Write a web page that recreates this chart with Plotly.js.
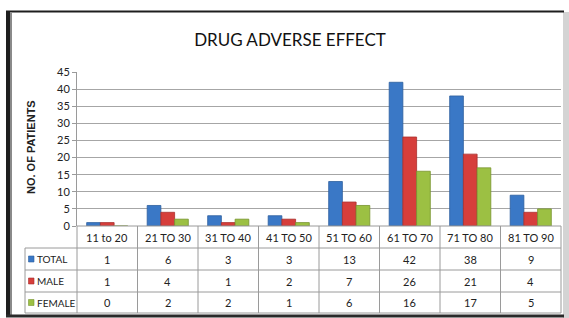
<!DOCTYPE html>
<html>
<head>
<meta charset="utf-8">
<script src="https://cdn.plot.ly/plotly-3.0.1.min.js"></script>
<style>
html,body{margin:0;padding:0;background:#fff;}
#chart{width:569px;height:318px;}
</style>
</head>
<body>
<div id="chart"></div>
<script>
// ---- data ----
const categories = ["11 to 20","21 TO 30","31 TO 40","41 TO 50","51 TO 60","61 TO 70","71 TO 80","81 TO 90"];
const seriesNames = ["TOTAL","MALE","FEMALE"];
const totalVals = [1,6,3,3,13,42,38,9];
const maleVals = [1,4,1,2,7,26,21,4];
const femaleVals = [0,2,2,1,6,16,17,5];
const yTicks = [0,5,10,15,20,25,30,35,40,45];

// ---- style ----
const colors = ["#3A78C6","#D63E3B","#9CC043"];
const lines = ["#2D5F9E","#A92E2C","#77932F"];
const W = 569, H = 318;
const L = 77, R = 561, T = 72, B = 226;
const px = v => (v - L) / (R - L);
const py = v => (B - v) / (B - T);
const font = "Lato, Roboto, Arial, sans-serif";

const allVals = [totalVals, maleVals, femaleVals];
const traces = seriesNames.map((n, i) => ({
  type: "bar", name: n, x: categories, y: allVals[i],
  marker: {color: colors[i], line: {color: lines[i], width: 0.8}},
  hoverinfo: "x+y+name"
}));

const rowLines = [248, 270, 292, 313];
const labelLeft = 25;
const shapes = [];
const annotations = [];

// outer frame (top, left, bottom dark; right soft shadow)
shapes.push({type:"rect", xref:"paper", yref:"paper", x0:px(563), x1:px(569), y0:py(318), y1:py(12),
  fillcolor:"#d4d4d4", line:{width:0}, layer:"below"});
shapes.push({type:"line", xref:"paper", yref:"paper", x0:px(6), x1:px(564), y0:py(11.5), y1:py(11.5),
  line:{color:"#1e1e1e", width:2}});
shapes.push({type:"line", xref:"paper", yref:"paper", x0:px(8), x1:px(8), y0:py(316), y1:py(11),
  line:{color:"#1e1e1e", width:4}});
shapes.push({type:"line", xref:"paper", yref:"paper", x0:px(11), x1:px(11), y0:py(315), y1:py(13),
  line:{color:"#8a8a8a", width:2}});
shapes.push({type:"line", xref:"paper", yref:"paper", x0:px(6), x1:px(564), y0:py(316), y1:py(316),
  line:{color:"#2a2a2a", width:3}});

// horizontal table lines
shapes.push({type:"line", xref:"paper", yref:"paper", x0:px(L), x1:px(R), y0:py(B), y1:py(B), line:{color:"#9a9a9a", width:1}});
rowLines.forEach(y => shapes.push({type:"line", xref:"paper", yref:"paper", x0:px(labelLeft), x1:px(R), y0:py(y), y1:py(y), line:{color:"#9a9a9a", width:1}}));
// vertical lines
const colW = (R - L) / categories.length;
for (let k = 0; k <= categories.length; k++) {
  const x = L + k * colW;
  shapes.push({type:"line", xref:"paper", yref:"paper", x0:px(x), x1:px(x), y0:py(B), y1:py(rowLines[rowLines.length-1]), line:{color:"#9a9a9a", width:1}});
}
shapes.push({type:"line", xref:"paper", yref:"paper", x0:px(labelLeft), x1:px(labelLeft), y0:py(rowLines[0]), y1:py(rowLines[rowLines.length-1]), line:{color:"#9a9a9a", width:1}});

// header labels
categories.forEach(c => annotations.push({xref:"x", yref:"paper", x:c, y:py((B+rowLines[0])/2), text:c, showarrow:false,
  font:{family:font, size:11, color:"#222"}, xanchor:"center", yanchor:"middle"}));
// rows
allVals.forEach((vals, i) => {
  const yc = (rowLines[i] + rowLines[i+1]) / 2;
  shapes.push({type:"rect", xref:"paper", yref:"paper", x0:px(28.5), x1:px(34), y0:py(yc+3), y1:py(yc-3),
    fillcolor:colors[i], line:{color:lines[i], width:0.6}});
  annotations.push({xref:"paper", yref:"paper", x:px(34.5), y:py(yc), text:seriesNames[i], showarrow:false,
    font:{family:font, size:10, color:"#222"}, xanchor:"left", yanchor:"middle"});
  vals.forEach((v, j) => annotations.push({xref:"x", yref:"paper", x:categories[j], y:py(yc), text:String(v), showarrow:false,
    font:{family:font, size:11, color:"#222"}, xanchor:"center", yanchor:"middle"}));
});

// y-axis title
annotations.push({xref:"paper", yref:"paper", x:px(31), y:py(147), text:"<b>NO. OF PATIENTS</b>", textangle:-90, showarrow:false,
  font:{family:"Liberation Sans, Arial, sans-serif", size:11, color:"#222"}, xanchor:"center", yanchor:"middle"});

const layout = {
  width: W, height: H,
  margin: {l: L, r: W - R, t: T, b: H - B, pad: 0},
  paper_bgcolor: "#ffffff", plot_bgcolor: "#ffffff",
  title: {text: "DRUG ADVERSE EFFECT", xref: "container", yref: "container", x: 290/W, y: 1 - 40/H,
    xanchor: "center", yanchor: "middle", font: {family: font, size: 17, color: "#111"}},
  showlegend: false,
  barmode: "group", bargap: 0.32, bargroupgap: 0,
  xaxis: {type: "category", showticklabels: false, showgrid: false, zeroline: false,
    showline: false, ticks: "", fixedrange: true},
  yaxis: {range: [0, 45], tickvals: yTicks, ticktext: yTicks.map(String), showgrid: true,
    gridcolor: "#a6a6a6", gridwidth: 1, zeroline: false, showline: true, linecolor: "#9a9a9a",
    ticks: "outside", ticklen: 4, tickcolor: "#9a9a9a",
    tickfont: {family: font, size: 11, color: "#222"}, fixedrange: true},
  shapes: shapes,
  annotations: annotations
};

Plotly.newPlot("chart", traces, layout, {displayModeBar: false, staticPlot: true});
</script>
</body>
</html>
